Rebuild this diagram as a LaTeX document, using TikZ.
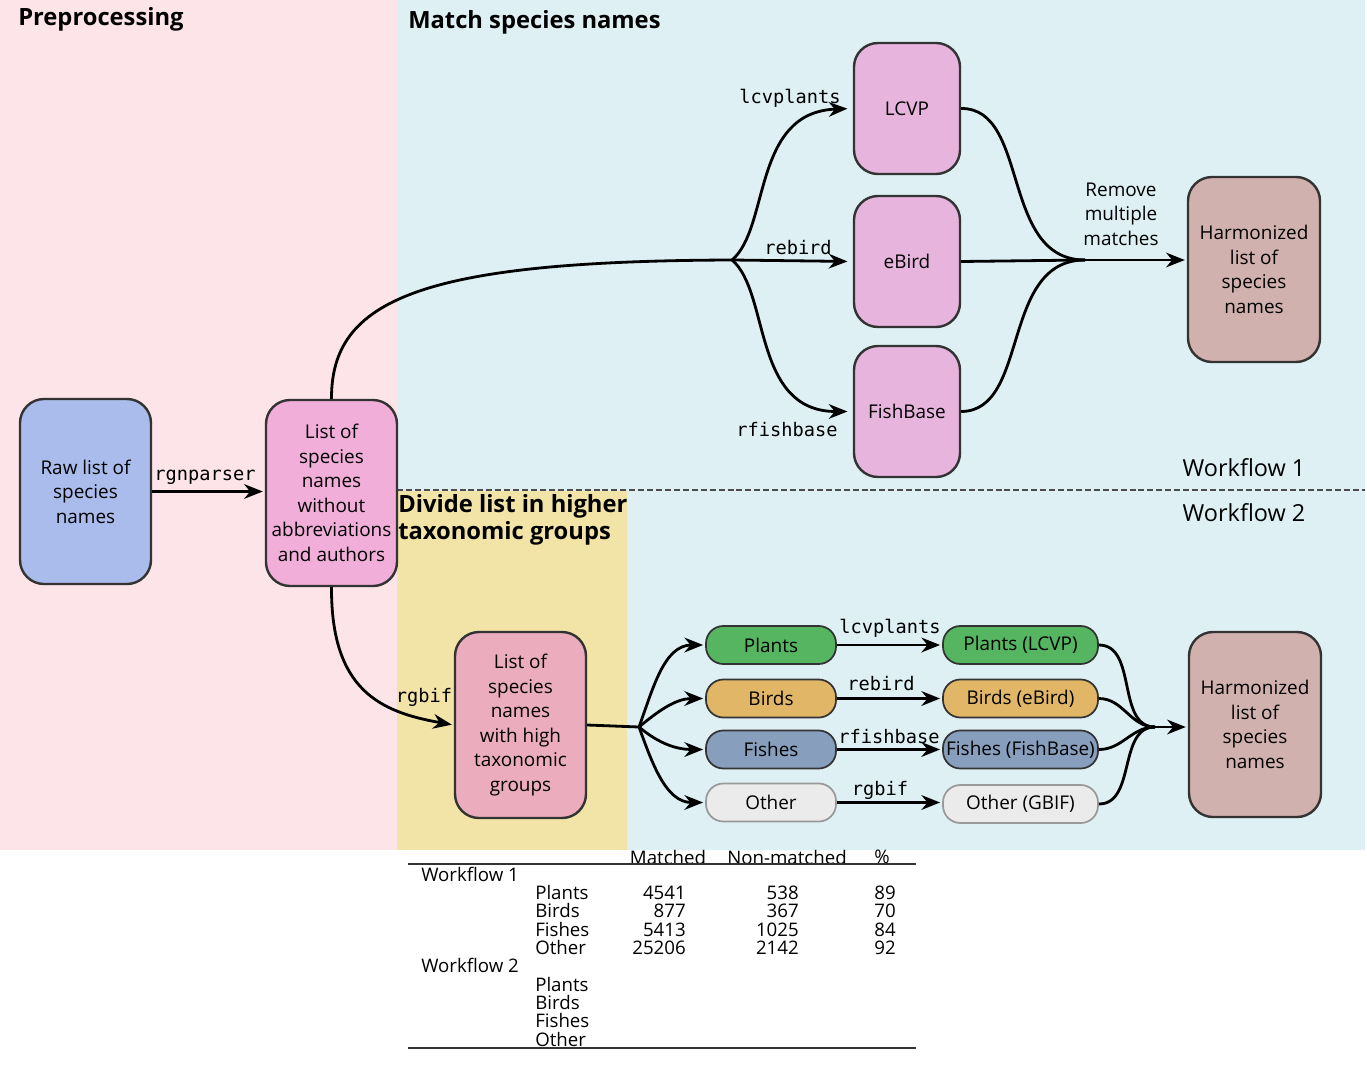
\documentclass[tikz,border=0pt]{standalone}
\usepackage{fontspec}
\setmainfont{Open Sans}
\setmonofont{DejaVu Sans Mono}
\usetikzlibrary{arrows.meta}
\newdimen\pxu \pxu=0.75pt
\newcommand\mynodefont{\fontsize{14.2}{18.4}\selectfont}
\newcommand\mylabfont{\fontsize{14}{16}\selectfont\ttfamily}
\newcommand\mytitlefont{\fontsize{17.8}{20.2}\selectfont\bfseries}
\newcommand\mywffont{\fontsize{17.6}{20}\selectfont}
\newcommand\mytabfont{\fontsize{14}{13.7}\selectfont}
\definecolor{bgpink}{HTML}{FCE4E9}
\definecolor{bgblue}{HTML}{DEF0F4}
\definecolor{bgyellow}{HTML}{F2E3A6}
\definecolor{cRaw}{HTML}{A9BCEB}
\definecolor{cList}{HTML}{F0AED9}
\definecolor{cDb}{HTML}{E6B4DD}
\definecolor{cHarm}{HTML}{D1B1AE}
\definecolor{cListB}{HTML}{EBACBE}
\definecolor{cPlant}{HTML}{55B560}
\definecolor{cBird}{HTML}{E2B667}
\definecolor{cFish}{HTML}{879EBD}
\definecolor{cOther}{HTML}{EBEBEB}
\definecolor{cBorder}{HTML}{333333}
\tikzset{
  box/.style={draw=cBorder, line width=1.8pt, rounded corners=18pt, align=center, inner sep=0pt, font=\mynodefont},
  bigbox/.style={box, minimum width=131\pxu, minimum height=185\pxu},
  dbbox/.style={box, fill=cDb, minimum width=106\pxu, minimum height=131\pxu},
  pill/.style={draw=cBorder, line width=1.3pt, rounded corners=13pt, minimum width=130\pxu, minimum height=38\pxu, inner sep=0pt, font=\mynodefont},
  pillr/.style={pill, minimum width=155\pxu},
  plainline/.style={line width=2.1pt},
  conn/.style={line width=2.1pt, -{Stealth[length=14pt,width=11pt,inset=4.5pt]}, shorten >=1.5pt},
  lab/.style={font=\mylabfont, inner sep=0pt},
  ttl/.style={font=\mytitlefont, inner sep=0pt},
  tab/.style={font=\mytabfont, inner sep=0pt},
}
\begin{document}
\begin{tikzpicture}[x=0.75pt,y=-0.75pt]
\useasboundingbox (0,0) rectangle (1367,1067);
% backgrounds
\fill[bgpink] (0,0) rectangle (397,850);
\fill[bgblue] (397,0) rectangle (1365,850);
\fill[bgyellow] (397,491) rectangle (627,850);
\draw[line width=2pt, color=black!70, dash pattern=on 4.5pt off 2.2pt] (397,490) -- (1365,490);

% titles
\node[ttl, anchor=west] (tPre) at (18,19) {Preprocessing};
\node[ttl, anchor=west] (tMatch) at (408,22) {Match species names};
\node[ttl, anchor=west, align=left] (tDiv) at (398,519.5) {Divide list in higher\\taxonomic groups};
\node[font=\mywffont, inner sep=0pt] (wf1) at (1244,468) {Workflow 1};
\node[font=\mywffont, inner sep=0pt] (wf2) at (1244,513) {Workflow 2};

% nodes
\node[bigbox, fill=cRaw] (raw) at (85.5,491.5) {Raw list of\\species\\names};
\node[bigbox, fill=cList, minimum height=186\pxu] (list1) at (331.5,493) {List of\\species\\names\\without\\abbreviations\\and authors};
\node[dbbox] (lcvp) at (907,108.5) {LCVP};
\node[dbbox] (ebird) at (907,261.5) {eBird};
\node[dbbox] (fishbase) at (907,411.5) {FishBase};
\node[bigbox, fill=cHarm, minimum width=132\pxu] (harm1) at (1254,269.5) {Harmonized\\list of\\species\\names};
\node[bigbox, fill=cListB, minimum height=186\pxu] (list2) at (520.5,725) {List of\\species\\names\\with high\\taxonomic\\groups};
\node[bigbox, fill=cHarm, minimum width=132\pxu] (harm2) at (1255,724.5) {Harmonized\\list of\\species\\names};

\node[pill, fill=cPlant] (plants) at (771,645) {Plants};
\node[pill, fill=cBird] (birds) at (771,698.5) {Birds};
\node[pill, fill=cFish] (fishes) at (771,749.5) {Fishes};
\node[pill, fill=cOther, draw=black!40] (other) at (771,802.5) {Other};
\node[pillr, fill=cPlant] (plantsL) at (1020.5,645) {Plants (LCVP)};
\node[pillr, fill=cBird] (birdsL) at (1020.5,698.5) {Birds (eBird)};
\node[pillr, fill=cFish] (fishesL) at (1020.5,749.5) {Fishes (FishBase)};
\node[pillr, fill=cOther, draw=black!40] (otherL) at (1020.5,804) {Other (GBIF)};

% workflow 1 connectors
\draw[conn] (raw.east) -- (raw.east -| list1.west);
\coordinate (b1) at (732,260);
\draw[plainline] (list1.north) .. controls (331,300) and (420,261) .. (b1);
\draw[conn, shorten >=4pt] (b1) .. controls (770,228) and (752,112) .. (lcvp.west);
\draw[conn, shorten >=4pt] (b1) -- (ebird.west);
\draw[conn, shorten >=4pt] (b1) .. controls (770,292) and (752,411.5) .. (fishbase.west);
\coordinate (m1) at (1085,260);
\draw[plainline] (lcvp.east) .. controls (1030,108) and (1000,260) .. (m1);
\draw[plainline] (ebird.east) -- (m1);
\draw[plainline] (fishbase.east) .. controls (1030,411) and (1000,260) .. (m1);
\draw[conn] (m1) -- (harm1.west |- m1);

% workflow 2 connectors
\draw[conn] (list1.south) .. controls (331,690) and (380,712) .. (list2.west);
\coordinate (b2) at (639,727);
\draw[plainline] (list2.east) -- (b2);
\draw[conn] (b2) to[out=70,in=180] (plants.west);
\draw[conn] (b2) to[out=40,in=180] (birds.west);
\draw[conn] (b2) to[out=-40,in=180] (fishes.west);
\draw[conn] (b2) to[out=-70,in=180] (other.west);
\draw[conn] (plants.east) -- (plantsL.west);
\draw[conn] (birds.east) -- (birdsL.west);
\draw[conn] (fishes.east) -- (fishesL.west);
\draw[conn] (other.east) -- (other.east -| otherL.west);
\coordinate (m2) at (1155,727);
\draw[plainline] (plantsL.east) to[out=0,in=180] (m2);
\draw[plainline] (birdsL.east) to[out=0,in=180] (m2);
\draw[plainline] (fishesL.east) to[out=0,in=180] (m2);
\draw[plainline] (otherL.east) to[out=0,in=180] (m2);
\draw[conn] (m2) -- (harm2.west |- m2);

% labels
\node[lab] (lRgn) at (205,477) {rgnparser};
\node[lab] (lLcv) at (790,98) {lcvplants};
\node[lab] (lReb) at (798,248) {rebird};
\node[lab] (lRfb) at (787,430) {rfishbase};
\node[font=\mynodefont, align=center, inner sep=0pt] (lRem) at (1121,214) {Remove\\multiple\\matches};
\node[lab] (lGbif) at (424,697) {rgbif};
\node[lab] (lLcv2) at (890,628) {lcvplants};
\node[lab] (lReb2) at (881,684) {rebird};
\node[lab] (lRfb2) at (889,737) {rfishbase};
\node[lab] (lGbif2) at (880,790) {rgbif};

% table
\node[tab] (hM) at (668,857) {Matched};
\node[tab] (hN) at (787,857) {Non-matched};
\node[tab] (hP) at (882,857) {\%};
\draw[line width=1.1pt, color=black!80] (408,864) -- (916,864);
\draw[line width=1.1pt, color=black!80] (408,1048) -- (916,1048);
\node[tab, anchor=mid west] (w1) at (421,878) {Workflow 1};
\node[tab, anchor=mid west] (r1) at (535,896) {Plants};
\node[tab, anchor=mid west] (r2) at (535,914) {Birds};
\node[tab, anchor=mid west] (r3) at (535,933) {Fishes};
\node[tab, anchor=mid west] (r4) at (535,951) {Other};
\node[tab, anchor=mid west] (w2) at (421,969) {Workflow 2};
\node[tab, anchor=mid west] (r5) at (535,988) {Plants};
\node[tab, anchor=mid west] (r6) at (535,1006) {Birds};
\node[tab, anchor=mid west] (r7) at (535,1024) {Fishes};
\node[tab, anchor=mid west] (r8) at (535,1043) {Other};
\node[tab, anchor=mid east] (m1a) at (686,896) {4541};
\node[tab, anchor=mid east] (m2a) at (686,914) {877};
\node[tab, anchor=mid east] (m3a) at (686,933) {5413};
\node[tab, anchor=mid east] (m4a) at (686,951) {25206};
\node[tab, anchor=mid east] (n1a) at (799,896) {538};
\node[tab, anchor=mid east] (n2a) at (799,914) {367};
\node[tab, anchor=mid east] (n3a) at (799,933) {1025};
\node[tab, anchor=mid east] (n4a) at (799,951) {2142};
\node[tab, anchor=mid east] (p1a) at (896,896) {89};
\node[tab, anchor=mid east] (p2a) at (896,914) {70};
\node[tab, anchor=mid east] (p3a) at (896,933) {84};
\node[tab, anchor=mid east] (p4a) at (896,951) {92};
\end{tikzpicture}
\end{document}
